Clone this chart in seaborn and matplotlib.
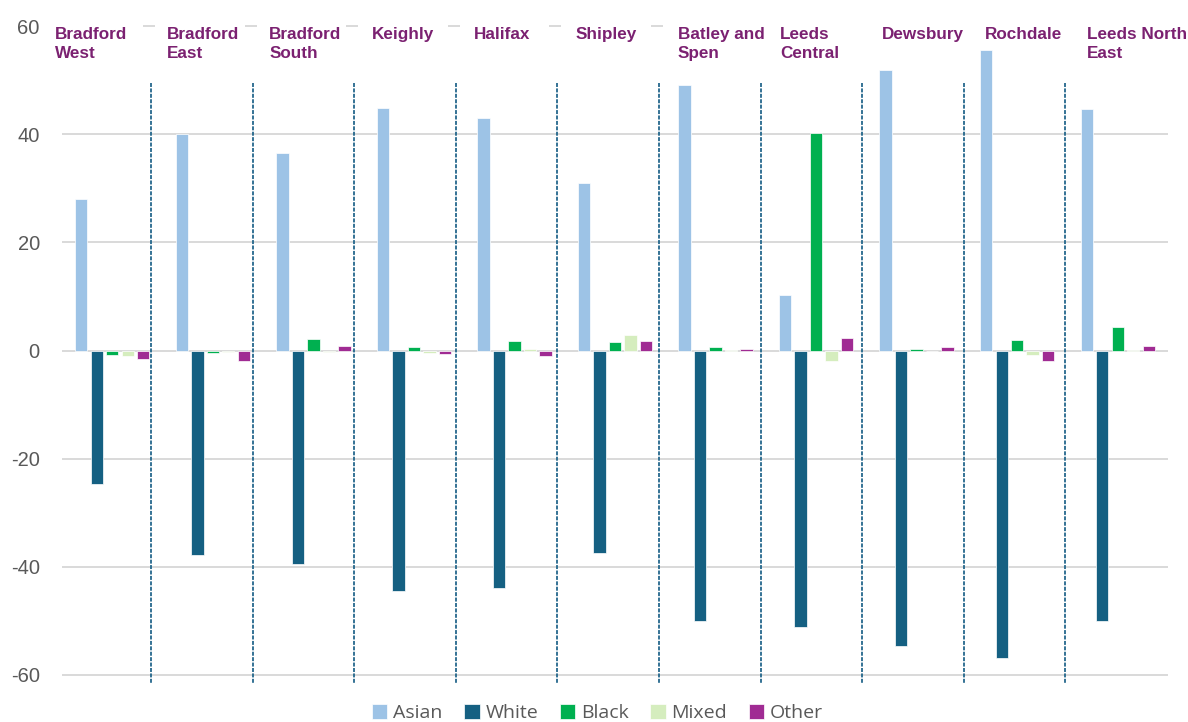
import numpy as np
import pandas as pd
import seaborn as sns
import matplotlib.pyplot as plt
from matplotlib.patches import Rectangle

# Percentage-point change in each ethnic group's share, by constituency
constituencies = ["Bradford\nWest", "Bradford\nEast", "Bradford\nSouth", "Keighly",
                  "Halifax", "Shipley", "Batley and\nSpen", "Leeds\nCentral",
                  "Dewsbury", "Rochdale", "Leeds North\nEast"]
groups = ["Asian", "White", "Black", "Mixed", "Other"]
asian = [28.0, 40.1, 36.5, 44.8, 43.0, 31.0, 49.1, 10.2, 51.9, 55.6, 44.6]
white = [-24.7, -37.8, -39.5, -44.5, -44.0, -37.4, -50.0, -51.1, -54.6, -56.9, -50.0]
black = [-0.85, -0.55, 2.2, 0.7, 1.7, 1.5, 0.65, 40.2, 0.35, 2.0, 4.3]
mixed = [-1.0, -0.2, -0.3, -0.45, 0.3, 2.9, 0.15, -1.85, -0.15, -0.75, 0.1]
other = [-1.6, -1.85, 0.9, -0.65, -1.1, 1.8, 0.2, 2.3, 0.7, -1.85, 0.85]
yticks = [-60, -40, -20, 0, 20, 40, 60]

colors = ["#9DC3E6", "#156082", "#00B050", "#D5EDBE", "#A02B93"]
label_color = "#7B2171"
divider_color = "#24678C"
grid_color = "#D9D9D9"
tick_color = "#595959"

df = pd.DataFrame({
    "seat": np.repeat(constituencies, len(groups)),
    "group": groups * len(constituencies),
    "value": np.column_stack([asian, white, black, mixed, other]).ravel(),
})

sns.set_theme(style="white")
plt.rcParams["font.family"] = ["Liberation Sans", "DejaVu Sans"]

fig = plt.figure(figsize=(11.88, 7.22), dpi=100)
ax = fig.add_axes([62 / 1188, 1 - 676 / 722, (1168 - 62) / 1188, (676 - 25) / 722])

sns.barplot(data=df, x="seat", y="value", hue="group", hue_order=groups,
            order=constituencies, palette=colors, saturation=1, width=0.77,
            gap=0.2, errorbar=None, edgecolor="white", linewidth=0.5, ax=ax,
            zorder=3)

ax.set_ylim(-60.2, 60.2)
ax.set_yticks(yticks)
ax.set_yticklabels([str(t) for t in yticks])
ax.set_xticks([])
ax.set_xlabel("")
ax.set_ylabel("")
ax.set_xlim(-0.5, len(constituencies) - 0.5)
for s in ax.spines.values():
    s.set_visible(False)
ax.set_axisbelow(True)
ax.yaxis.grid(True, color=grid_color, linewidth=1.4)
ax.xaxis.grid(False)
ax.tick_params(axis="y", length=0, pad=16, labelsize=14.5, labelcolor=tick_color)

n = len(constituencies)
# dashed separators between constituencies
div_x = [0.386 + 1.0104 * k for k in range(n - 1)]
for x in div_x:
    ax.plot([x, x], [49.5, -61.7], color=divider_color, lw=1.3,
            ls=(0, (2.2, 0.8)), clip_on=False, zorder=4)

# constituency names in white boxes along the top edge
edges = [-0.5] + div_x + [n - 0.5]
for k in range(n):
    x0 = edges[k] + (0.04 if 0 < k <= 6 else 0.0)
    x1 = edges[k + 1] - (0.08 if k < 6 else -0.05)
    ax.add_patch(Rectangle((x0, 58.6), x1 - x0, 3.0, facecolor="white",
                           edgecolor="none", zorder=2, clip_on=False))
for k, name in enumerate(constituencies):
    lx = k - 0.47 + 0.016 * k if k > 0 else -0.57
    ax.text(lx, 59.9, name, ha="left", va="top", fontsize=12.3,
            fontweight="bold", color=label_color, linespacing=1.36, zorder=5)

handles, labels = ax.get_legend_handles_labels()
ax.get_legend().remove()
fig.legend(handles, labels, loc="center", bbox_to_anchor=(0.503, 0.012),
           ncol=5, frameon=False, handlelength=0.8, handleheight=0.8,
           handletextpad=0.3, columnspacing=1.1,
           prop={"family": ["Open Sans", "DejaVu Sans"], "size": 14},
           labelcolor=tick_color)

fig.savefig("out.png", dpi=100)
